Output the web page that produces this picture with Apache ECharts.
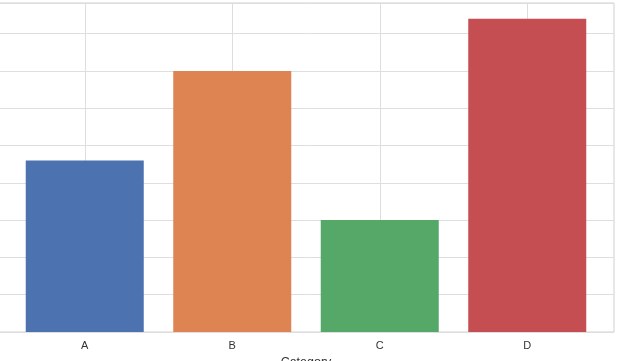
<!DOCTYPE html>
<html><head><meta charset="utf-8">
<script src="https://cdn.jsdelivr.net/npm/echarts@6/dist/echarts.min.js"></script>
<style>html,body{margin:0;padding:0;background:#fff}#c{width:624px;height:361px}</style>
</head><body><div id="c"></div>
<script>
const categories = ['A', 'B', 'C', 'D'];
const values = [23, 35, 15, 42];
const barColors = ['#4c72b0', '#dd8452', '#55a868', '#c44e52'];
const xAxisTitle = 'Category';
const yMax = 44.1;
const yStep = 5;

const chart = echarts.init(document.getElementById('c'), null, {renderer: 'canvas'});
const font = 'Liberation Sans, Arial, sans-serif';
chart.setOption({
  animation: false,
  backgroundColor: '#ffffff',
  grid: [
    {left: -2, right: 10, top: 3, bottom: 29, show: true, borderColor: '#d0d0d0', borderWidth: 1,
     backgroundColor: 'transparent', containLabel: false, outerBoundsMode: 'none'},
    {left: 11, right: 23, top: 3, bottom: 29, containLabel: false, outerBoundsMode: 'none'}
  ],
  xAxis: [
    {gridIndex: 0, type: 'value', show: false, min: 0, max: 1},
    {gridIndex: 1, type: 'category', data: categories,
     axisLine: {show: false}, axisTick: {show: false, alignWithLabel: true},
     splitLine: {show: true, alignWithLabel: true, lineStyle: {color: '#dedede', width: 1}},
     axisLabel: {color: '#333', fontSize: 11, fontFamily: font, margin: 8},
     name: xAxisTitle, nameLocation: 'middle', nameGap: 21,
     nameTextStyle: {color: '#333', fontSize: 12.5, fontFamily: font}}
  ],
  yAxis: [
    {gridIndex: 0, type: 'value', min: 0, max: yMax, interval: yStep,
     axisLine: {show: false}, axisTick: {show: false}, axisLabel: {show: false},
     splitLine: {show: true, lineStyle: {color: '#dedede', width: 1}}},
    {gridIndex: 1, type: 'value', min: 0, max: yMax, interval: yStep, show: false,
     splitLine: {show: false}}
  ],
  series: [{
    type: 'bar', xAxisIndex: 1, yAxisIndex: 1, barWidth: '80%',
    data: values.map((v, i) => ({value: v, itemStyle: {color: barColors[i]}}))
  }]
});
</script></body></html>
